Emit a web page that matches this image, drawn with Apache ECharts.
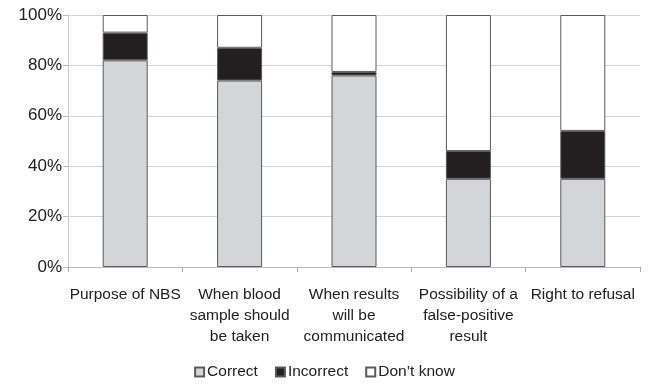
<!DOCTYPE html>
<html>
<head>
<meta charset="utf-8">
<script src="https://cdn.jsdelivr.net/npm/echarts@6/dist/echarts.min.js"></script>
<style>html,body{margin:0;padding:0;background:#fff}#c{width:649px;height:384px}</style>
</head>
<body>
<div id="c"></div>
<script>
const categories = ["Purpose of NBS", "When blood\nsample should\nbe taken", "When results\nwill be\ncommunicated", "Possibility of a\nfalse-positive\nresult", "Right to refusal"];
const correct = [82, 74, 76, 35, 35];
const incorrect = [11, 13, 1.4, 11, 19];
const dontKnow = [7, 13, 22.6, 54, 46];
const yTicks = [0, 20, 40, 60, 80, 100];

const chart = echarts.init(document.getElementById('c'), null, {renderer: 'canvas'});
const font = '"Liberation Sans", Arial, sans-serif';
const border = {borderColor: '#5a5a5a', borderWidth: 1};
function mk(name, data, color) {
  return {name, type: 'bar', stack: 'all', data, barWidth: 45,
    itemStyle: Object.assign({color}, border)};
}
chart.setOption({
  animation: false,
  grid: {left: 68, right: 9, top: 15, bottom: 117},
  textStyle: {fontFamily: font},
  legend: {
    top: 364, left: 'center', padding: 0, itemWidth: 9, itemHeight: 9, itemGap: 17,
    icon: 'rect',
    textStyle: {fontSize: 15.5, color: '#222', fontFamily: font, padding: [0, 0, 0, -2]},
    data: ['Correct', 'Incorrect', "Don\u2019t know"]
  },
  xAxis: {
    type: 'category', data: categories,
    axisLine: {lineStyle: {color: '#bbb'}},
    axisTick: {show: true, length: 5, lineStyle: {color: '#aaa'}},
    axisLabel: {interval: 0, fontSize: 15.5, color: '#222', lineHeight: 21, margin: 17, fontFamily: font}
  },
  yAxis: {
    type: 'value', min: 0, max: 100, interval: 20,
    axisLine: {show: true, lineStyle: {color: '#ccc'}},
    axisTick: {show: true, length: 5, lineStyle: {color: '#bbb'}},
    splitLine: {lineStyle: {color: '#d4d4d4'}},
    axisLabel: {fontSize: 17, color: '#222', margin: 6, fontFamily: font,
      formatter: v => yTicks.includes(v) ? v + '%' : ''}
  },
  series: [
    mk('Correct', correct, '#d4d5d8'),
    mk('Incorrect', incorrect, '#231f20'),
    mk("Don\u2019t know", dontKnow, '#ffffff')
  ]
});
</script>
</body>
</html>
